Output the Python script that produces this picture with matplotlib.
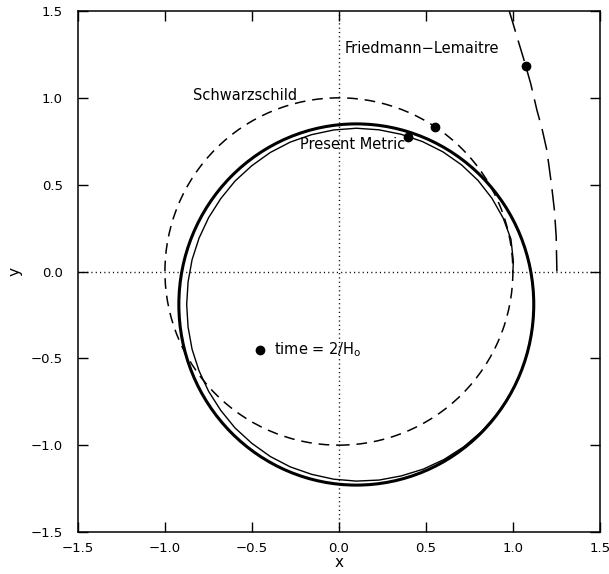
import numpy as np
import matplotlib
matplotlib.use("Agg")
from matplotlib import pyplot as plt
from matplotlib.patches import Ellipse, Circle

# Schwarzschild orbit (circle)
schw_radius = 1.0
schw_dot = (0.555, 0.832)

# Present metric: outer (thick) loop
pm_center = (0.10, -0.19)
pm_width = 2.04
pm_height = 2.08
# Present metric: inner (thin) first loop, starts at (1, 0) and joins the outer loop
pm_thin_x = [1.000, 1.003, 0.989, 0.944, 0.880, 0.800, 0.705, 0.598, 0.481, 0.358,
             0.230, 0.100, -0.030, -0.157, -0.280, -0.395, -0.501, -0.597, -0.679,
             -0.749, -0.804, -0.844, -0.867, -0.875, -0.867, -0.844, -0.804, -0.749,
             -0.679, -0.597, -0.501, -0.395, -0.280, -0.157, -0.030, 0.100, 0.231,
             0.359, 0.485, 0.605, 0.717, 0.819, 0.908, 0.983]
pm_thin_y = [0.000, 0.057, 0.186, 0.308, 0.421, 0.524, 0.614, 0.689, 0.748, 0.790,
             0.816, 0.825, 0.815, 0.788, 0.745, 0.685, 0.609, 0.521, 0.420,
             0.310, 0.192, 0.068, -0.060, -0.190, -0.320, -0.448, -0.572, -0.690,
             -0.800, -0.901, -0.989, -1.065, -1.125, -1.168, -1.196, -1.207, -1.201,
             -1.177, -1.138, -1.082, -1.010, -0.923, -0.823, -0.710]
pm_dot = (0.397, 0.775)

# Friedmann-Lemaitre trajectory
fl_x = [1.253, 1.249, 1.239, 1.222, 1.195, 1.168, 1.138, 1.103, 1.064, 1.030, 0.995, 0.970]
fl_y = [0.0, 0.2, 0.35, 0.5, 0.7, 0.82, 0.93, 1.08, 1.218, 1.33, 1.448, 1.53]
fl_dot = (1.073, 1.183)

time_dot = (-0.454, -0.452)

tick_vals = [-1.5, -1.0, -0.5, 0.0, 0.5, 1.0, 1.5]
tick_text = ["\u22121.5", "\u22121.0", "\u22120.5", "0.0", "0.5", "1.0", "1.5"]

fig = plt.figure(figsize=(6.09, 5.74), dpi=100)
ax = fig.add_axes([0.128, 0.0732, 0.857, 0.9076])

ax.axhline(0, color='black', lw=1.0, ls=(0, (0.8, 2.3)))
ax.axvline(0, color='black', lw=1.0, ls=(0, (0.8, 2.3)))

ax.add_patch(Circle((0, 0), schw_radius, fill=False, ec='black', lw=1.1,
                    ls=(0, (7, 4.5))))
ax.add_patch(Ellipse(pm_center, pm_width, pm_height, fill=False, ec='black', lw=2.2))
ax.plot(pm_thin_x, pm_thin_y, color='black', lw=1.0)
ax.plot(fl_x, fl_y, color='black', lw=1.1, ls=(0, (14, 6)))

for p in [schw_dot, pm_dot, fl_dot, time_dot]:
    ax.plot(p[0], p[1], 'o', color='black', ms=6)

ax.text(0.034, 1.287, "Friedmann\u2212Lemaitre", fontsize=10.5, va='center')
ax.text(-0.839, 1.011, "Schwarzschild", fontsize=10.5, va='center')
ax.text(-0.224, 0.734, "Present Metric", fontsize=10.5, va='center')
ax.text(-0.374, -0.452, "time = 2/H$_\\mathregular{o}$", fontsize=10.5, va='center')

ax.set_xlim(-1.5, 1.5)
ax.set_ylim(-1.5, 1.5)
ax.set_xticks(tick_vals)
ax.set_yticks(tick_vals)
ax.set_xticklabels(tick_text)
ax.set_yticklabels(tick_text)
ax.tick_params(direction='in', length=7, width=1.0, top=True, right=True,
               labelsize=9.5)
ax.tick_params(axis='x', pad=7)
ax.tick_params(axis='y', pad=11)
for s in ax.spines.values():
    s.set_linewidth(1.1)
ax.set_xlabel("x", fontsize=11, labelpad=0)
ax.set_ylabel("y", fontsize=11, labelpad=6)

fig.savefig("out.png", dpi=100)
